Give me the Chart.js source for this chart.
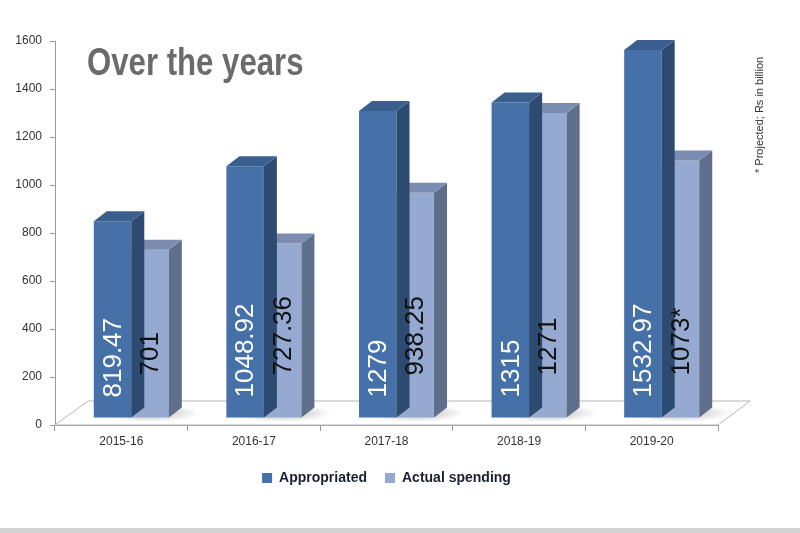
<!DOCTYPE html>
<html>
<head>
<meta charset="utf-8">
<script src="https://cdn.jsdelivr.net/npm/chart.js@4.4.0/dist/chart.umd.min.js"></script>
<style>
  html, body { margin: 0; padding: 0; background: #fff; }
  #wrap { width: 800px; height: 533px; position: relative; }
</style>
</head>
<body>
<div id="wrap"><canvas id="budgetChart" width="800" height="533"></canvas></div>
<script>
// donnees
const years = ["2015-16", "2016-17", "2017-18", "2018-19", "2019-20"];
const appropriated = [819.47, 1048.92, 1279, 1315, 1532.97];
const actualSpending = [701, 727.36, 938.25, 1271, 1073];
const projected = [false, false, false, false, true];
const yMax = 1600;
const yStep = 200;

// couleurs des faces (avant, cote, dessus)
const faceColors = [
  { front: "#4571a8", side: "#2d4b70", top: "#3a5f8e", label: "#ffffff", lift: 20 },
  { front: "#95a9d1", side: "#5f6e8b", top: "#7b8cb0", label: "#111111", lift: 42 }
];

// decalage de la profondeur 3D
const depthX = 13;
const depthY = 10;
const shiftX = 10;
const shiftY = -7;

const bars3d = {
  id: "bars3d",
  beforeDatasetsDraw(chart) {
    const ctx = chart.ctx;
    const xs = chart.scales.x;
    const ys = chart.scales.y;
    const base = ys.getPixelForValue(0);
    // plancher
    ctx.save();
    ctx.fillStyle = "#ffffff";
    ctx.strokeStyle = "#b5b5b5";
    ctx.lineWidth = 1;
    ctx.beginPath();
    ctx.moveTo(xs.left, base);
    ctx.lineTo(xs.left + 33, base - 24);
    ctx.lineTo(xs.right + 32, base - 24);
    ctx.lineTo(xs.right, base);
    ctx.closePath();
    ctx.fill();
    ctx.stroke();
    // ombres sous les barres
    years.forEach((y, i) => {
      const cx = xs.getPixelForValue(i) + shiftX + 18;
      const g = ctx.createRadialGradient(cx, base - 12, 2, cx, base - 12, 50);
      g.addColorStop(0, "rgba(0,0,0,0.28)");
      g.addColorStop(1, "rgba(0,0,0,0)");
      ctx.fillStyle = g;
      ctx.save();
      ctx.translate(cx, base - 12);
      ctx.scale(1, 0.18);
      ctx.translate(-cx, -(base - 12));
      ctx.beginPath();
      ctx.arc(cx, base - 12, 50, 0, Math.PI * 2);
      ctx.fill();
      ctx.restore();
    });
    ctx.restore();
    ctx.save();
    ctx.translate(shiftX, shiftY);
  },
  afterDatasetDraw(chart, args) {
    const ctx = chart.ctx;
    const c = faceColors[args.index];
    args.meta.data.forEach(bar => {
      const p = bar.getProps(["x", "y", "base", "width"], true);
      const l = p.x - p.width / 2;
      const r = p.x + p.width / 2;
      ctx.fillStyle = c.side;
      ctx.beginPath();
      ctx.moveTo(r, p.y);
      ctx.lineTo(r + depthX, p.y - depthY);
      ctx.lineTo(r + depthX, p.base - depthY);
      ctx.lineTo(r, p.base);
      ctx.closePath();
      ctx.fill();
      ctx.fillStyle = c.top;
      ctx.beginPath();
      ctx.moveTo(l, p.y);
      ctx.lineTo(r, p.y);
      ctx.lineTo(r + depthX, p.y - depthY);
      ctx.lineTo(l + depthX, p.y - depthY);
      ctx.closePath();
      ctx.fill();
    });
  },
  afterDatasetsDraw(chart) {
    const ctx = chart.ctx;
    // etiquettes verticales dans les barres
    chart.data.datasets.forEach((ds, di) => {
      const meta = chart.getDatasetMeta(di);
      const c = faceColors[di];
      meta.data.forEach((bar, i) => {
        const p = bar.getProps(["x", "base"], true);
        let txt = String(ds.data[i]);
        if (di === 1 && projected[i]) txt += "*";
        ctx.save();
        ctx.translate(p.x, p.base - c.lift);
        ctx.rotate(-Math.PI / 2);
        ctx.font = "26px 'Liberation Sans', Arial, sans-serif";
        ctx.fillStyle = c.label;
        ctx.textAlign = "left";
        ctx.textBaseline = "middle";
        ctx.fillText(txt, 0, 1);
        ctx.restore();
      });
    });
    ctx.restore();
  },
  afterDraw(chart) {
    const ctx = chart.ctx;
    ctx.save();
    // titre
    ctx.translate(87, 75);
    ctx.scale(0.82, 1);
    ctx.font = "bold 38px 'Liberation Sans', Arial, sans-serif";
    ctx.fillStyle = "#6b6b6b";
    ctx.textBaseline = "alphabetic";
    ctx.fillText("Over the years", 0, 0);
    ctx.restore();
    // note a droite
    ctx.save();
    ctx.translate(760, 173);
    ctx.rotate(-Math.PI / 2);
    ctx.font = "11px 'Liberation Sans', Arial, sans-serif";
    ctx.fillStyle = "#333333";
    ctx.textBaseline = "middle";
    ctx.fillText("* Projected; Rs in billion", 0, 0);
    ctx.restore();
    // bande grise en bas
    ctx.fillStyle = "#d2d2d2";
    ctx.fillRect(0, 528, 800, 5);
  }
};

const ctxChart = document.getElementById("budgetChart");
const budgetChart = new Chart(ctxChart, {
  type: "bar",
  data: {
    labels: years,
    datasets: [
      { label: "Appropriated", data: appropriated, backgroundColor: faceColors[0].front, borderWidth: 0, clip: false },
      { label: "Actual spending", data: actualSpending, backgroundColor: faceColors[1].front, borderWidth: 0, clip: false }
    ]
  },
  options: {
    responsive: false,
    animation: false,
    devicePixelRatio: 1,
    layout: { padding: { top: 41, right: 82, bottom: 38, left: 0 } },
    datasets: { bar: { categoryPercentage: 0.566, barPercentage: 1 } },
    scales: {
      x: {
        afterFit(scale) { scale.height = 28; },
        grid: { drawOnChartArea: false, tickLength: 6, color: "#9a9a9a", offset: true },
        border: { color: "#9a9a9a" },
        ticks: { color: "#333", padding: 3, font: { family: "'Liberation Sans', Arial", size: 12 } }
      },
      y: {
        min: 0,
        max: yMax,
        afterFit(scale) { scale.width = 55; },
        grid: { drawOnChartArea: false, tickLength: 5, color: "#9a9a9a" },
        border: { color: "#9a9a9a" },
        ticks: {
          stepSize: yStep,
          color: "#333",
          padding: 8,
          font: { family: "'Liberation Sans', Arial", size: 12 },
          callback: v => String(v)
        }
      }
    },
    plugins: {
      tooltip: { enabled: false },
      legend: {
        position: "bottom",
        fullSize: false,
        labels: {
          boxWidth: 10,
          boxHeight: 10,
          padding: 18,
          color: "#1b1f33",
          font: { family: "'Liberation Sans', Arial", size: 14, weight: "bold" }
        }
      }
    }
  },
  plugins: [bars3d]
});
</script>
</body>
</html>
